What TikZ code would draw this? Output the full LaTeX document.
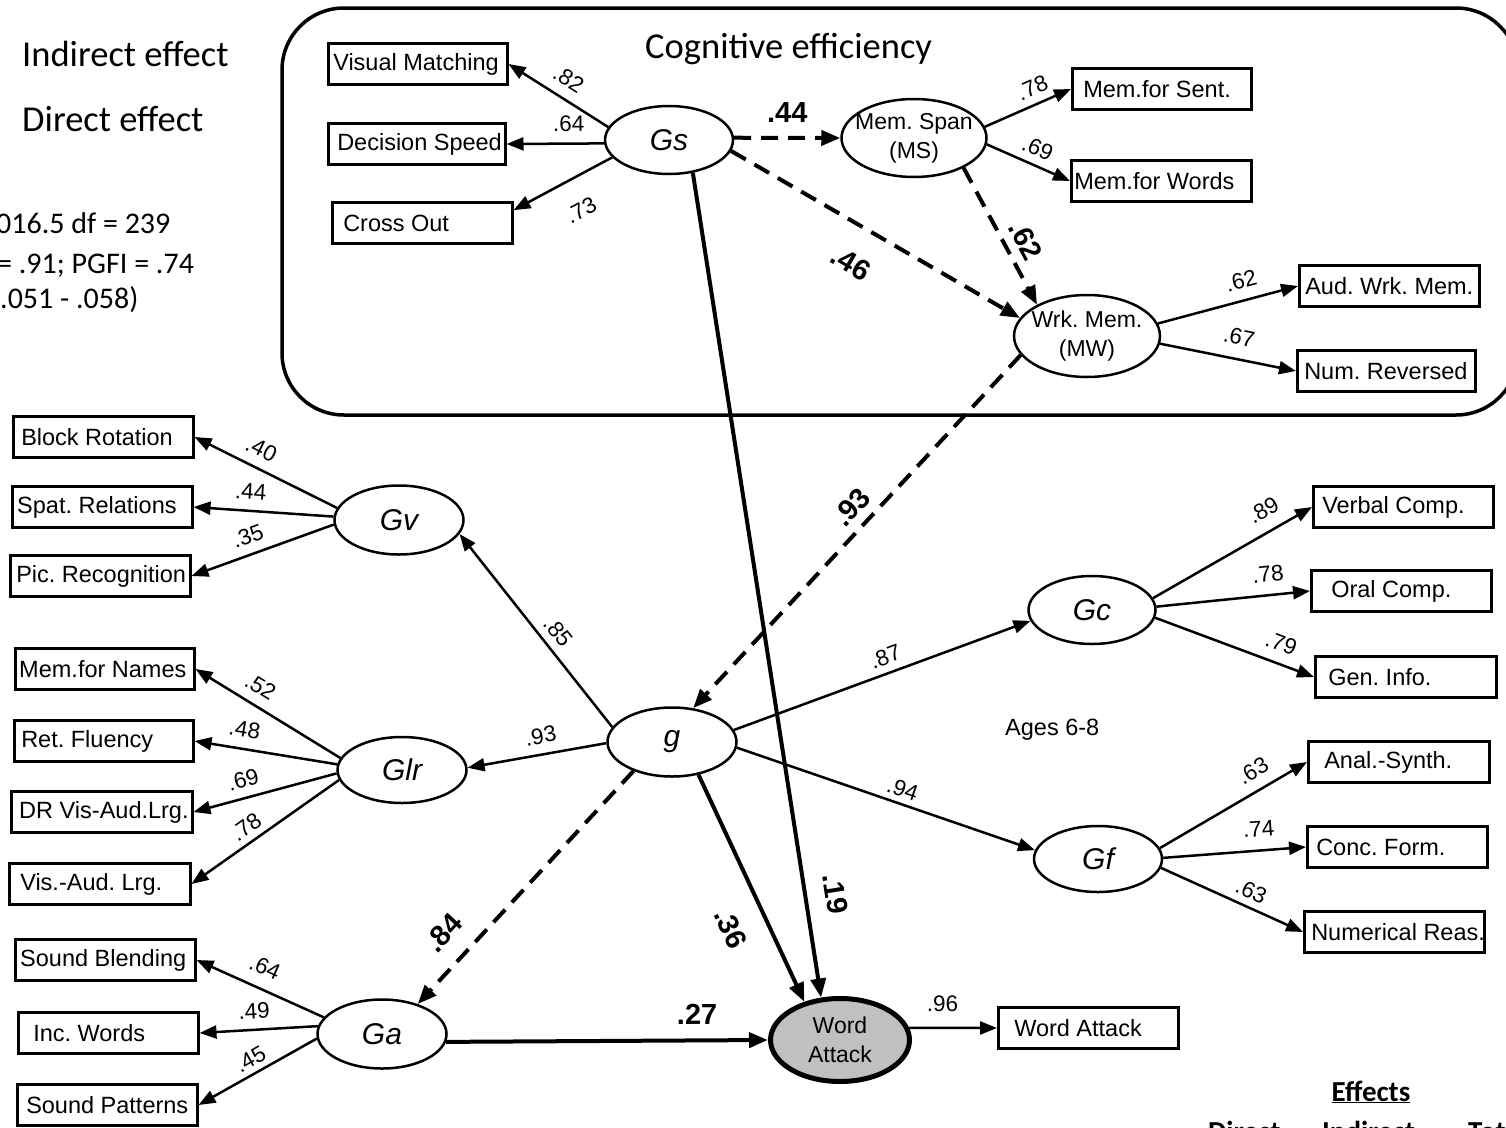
\documentclass[tikz,border=0pt]{standalone}
\usepackage{fontspec}
\setmainfont{Liberation Sans}
\newfontfamily\carlito{Carlito}
\usetikzlibrary{arrows.meta,shapes.geometric}
% text of an indicator box: left padding, box width, label
\newcommand\boxlabel[3]{\makebox[#2pt][l]{\hspace*{#1pt}#3}}
\definecolor{wafill}{RGB}{192,192,192}
\frenchspacing

\begin{document}
\begin{tikzpicture}[x=1pt,y=-1pt,
  ind/.style={draw,line width=2.5pt,anchor=west,inner xsep=0pt,inner ysep=0pt,
    minimum height=41pt,font=\fontsize{23.5}{28}\selectfont},
  lat/.style={draw,ellipse,line width=2.5pt,inner sep=0pt,
    font=\fontsize{30}{36}\selectfont\itshape},
  twoline/.style={font=\upshape\fontsize{23}{29}\selectfont,align=center,inner sep=0pt},
  load/.style={line width=2.5pt,-{Triangle[length=17pt,width=13pt]}},
  eff/.style={line width=4pt,-{Triangle[length=19pt,width=15pt]}},
  indeff/.style={eff,dash pattern=on 17pt off 10pt},
  lbl/.style={font=\fontsize{22.5}{26}\selectfont,inner sep=1pt,sloped},
  blbl/.style={font=\fontsize{29}{34}\selectfont\bfseries,inner sep=1pt,sloped},
  hdr/.style={font=\carlito\fontsize{36.5}{44}\selectfont,inner sep=0pt,anchor=base west},
  fitstat/.style={font=\carlito\fontsize{30}{36}\selectfont,inner sep=0pt,anchor=base west},
  effhdr/.style={font=\carlito\bfseries\fontsize{29}{35}\selectfont,inner sep=0pt},
]
\useasboundingbox (0,0) rectangle (1506,1127);
\clip (0,0) rectangle (1506,1127);

% legend and fit statistics
\node[hdr] (indirect) at (22,66) {Indirect effect};
\node[hdr] (direct) at (22,131) {Direct effect};
\node[fitstat] (fitA) at (-4,233) {016.5 df = 239};
\node[fitstat] (fitB) at (-3,273) {= .91; PGFI = .74};
\node[fitstat] (fitC) at (0,308) {.051 - .058)};

% cognitive efficiency frame
\draw[line width=3.5pt,rounded corners=62pt] (282,8) rectangle (1518,415);
\node[hdr] (cogeff) at (645,58) {Cognitive efficiency};

% latent factors
\node[lat,minimum width=128pt,minimum height=68pt] (gs) at (669,140) {Gs};
\node[lat,minimum width=145pt,minimum height=78pt,
  label={[twoline]center:Mem. Span\\(MS)}] (ms) at (914,138) {};
\node[lat,minimum width=146pt,minimum height=82pt,
  label={[twoline]center:Wrk. Mem.\\(MW)}] (mw) at (1087,336) {};
\node[lat,minimum width=129pt,minimum height=69pt] (gv) at (399,520) {Gv};
\node[lat,minimum width=129pt,minimum height=66pt] (glr) at (402,770) {Glr};
\node[lat,minimum width=129pt,minimum height=69pt] (ga) at (382,1034) {Ga};
\node[lat,minimum width=129pt,minimum height=69pt] (g) at (672,742) {g};
\node[lat,minimum width=127pt,minimum height=68pt] (gc) at (1092,610) {Gc};
\node[lat,minimum width=128pt,minimum height=66pt] (gf) at (1098,859) {Gf};
\node[lat,fill=wafill,line width=5pt,minimum width=139pt,minimum height=83pt,
  label={[twoline]center:Word\\Attack}] (wa) at (840,1040) {};

% indicator boxes
\node[ind] (vm) at (327,64) {\boxlabel{5}{179}{Visual Matching}};
\node[ind] (ds) at (327,144) {\boxlabel{9}{177}{Decision Speed}};
\node[ind] (co) at (331,223) {\boxlabel{11}{180}{Cross Out}};
\node[ind] (msent) at (1071,89) {\boxlabel{11}{179}{Mem.for Sent.}};
\node[ind] (mwords) at (1070,181) {\boxlabel{3}{180}{Mem.for Words}};
\node[ind] (aud) at (1298,286) {\boxlabel{6}{180}{Aud. Wrk. Mem.}};
\node[ind] (numrev) at (1296,371) {\boxlabel{7}{178}{Num. Reversed}};
\node[ind] (br) at (12,437) {\boxlabel{8}{180}{Block Rotation}};
\node[ind] (sr) at (11,507) {\boxlabel{5}{180}{Spat. Relations}};
\node[ind] (pr) at (9,576) {\boxlabel{6}{180}{Pic. Recognition}};
\node[ind] (mn) at (14,669) {\boxlabel{4}{179}{Mem.for Names}};
\node[ind] (rf) at (13,741) {\boxlabel{7}{179}{Ret. Fluency}};
\node[ind] (dr) at (10,812) {\boxlabel{8}{181}{DR Vis-Aud.Lrg.}};
\node[ind] (va) at (8,884) {\boxlabel{11}{181}{Vis.-Aud. Lrg.}};
\node[ind] (sb) at (14,960) {\boxlabel{5}{180}{Sound Blending}};
\node[ind] (iw) at (17,1033) {\boxlabel{15}{180}{Inc. Words}};
\node[ind] (sp) at (16,1105) {\boxlabel{9}{180}{Sound Patterns}};
\node[ind] (vc) at (1312,507) {\boxlabel{9}{180}{Verbal Comp.}};
\node[ind] (oc) at (1310,591) {\boxlabel{20}{180}{Oral Comp.}};
\node[ind] (gi) at (1314,677) {\boxlabel{13}{181}{Gen. Info.}};
\node[ind] (as) at (1307,762) {\boxlabel{16}{181}{Anal.-Synth.}};
\node[ind] (cf) at (1306,847) {\boxlabel{9}{180}{Conc. Form.}};
\node[ind] (nr) at (1303,932) {\boxlabel{7}{180}{Numerical Reas.}};
\node[ind] (wab) at (997,1028) {\boxlabel{16}{180}{Word Attack}};

\node[anchor=base west,inner sep=0pt,font=\fontsize{23.5}{28}\selectfont] (ages) at (1005,735) {Ages 6-8};

% effects table heading
\node[effhdr,anchor=base] (effects) at (1371,1101) {\underline{Effects}};
\node[effhdr,anchor=base west] (colD) at (1208,1141) {Direct};
\node[effhdr,anchor=base west] (colI) at (1322,1141) {Indirect};
\node[effhdr,anchor=base west] (colT) at (1468,1141) {Total};

% Gs loadings
\draw[load] (gs.168) -- node[lbl,above=9pt,pos=.5]{.82} (vm.east);
\draw[load] (gs.183) -- node[lbl,above=10pt,pos=.36]{.64} (ds.east);
\draw[load] (gs.197) -- node[lbl,below=22pt,pos=.47]{.73} (co.8);
% memory span / working memory loadings
\draw[load] (ms.9) -- node[lbl,above=6.5pt,pos=.63]{.78} (msent.west);
\draw[load] (ms.355) -- node[lbl,above=6.7pt,pos=.53]{.69} (mwords.west);
\draw[load] (mw.10) -- node[lbl,above=9.5pt,pos=.63]{.62} (aud.west);
\draw[load] (mw.354) -- node[lbl,above=12pt,pos=.55]{.67} (numrev.west);

% structural paths
\draw[indeff] (gs.2) -- node[blbl,above=12pt,pos=.5]{.44} (ms.180);
\draw[indeff] (gs.350) -- node[blbl,below=24pt,pos=.48]{.46} (mw.165);
\draw[indeff] (ms.329) -- node[blbl,above=7pt,pos=.6]{.62} (mw.148);
\draw[indeff] (mw.196) -- node[blbl,above=7pt,pos=.47]{.93} (g.58);
\draw[eff] (gs.306) -- node[blbl,above=17pt,pos=.88]{.19} (wa.114);
\draw[eff] (g.309) -- node[blbl,below=22pt,pos=.61]{.36} (wa.133);
\draw[indeff] (g.217) -- node[blbl,above=16pt,pos=.78]{.84} (ga.40);
\draw[eff] (ga.353) -- node[blbl,above=13pt,pos=.78]{.27} (wa.west);
\draw[load] (wa.10) -- node[lbl,above=14pt,pos=.38]{.96} (wab.west);

% g loadings
\draw[load] (g.166) -- node[lbl,above=6.6pt,pos=.44]{.85} (gv.347);
\draw[load] (g.181) -- node[lbl,above=8.5pt,pos=.45]{.93} (glr.2);
\draw[load] (g.11) -- node[lbl,above=6.4pt,pos=.53]{.87} (gc.190);
\draw[load] (g.355) -- node[lbl,above=4.5pt,pos=.54]{.94} (gf.172);

% Gv loadings
\draw[load] (gv.169) -- node[lbl,above=8.8pt,pos=.59]{.40} (br.east);
\draw[load] (gv.177) -- node[lbl,above=9pt,pos=.6]{.44} (sr.east);
\draw[load] (gv.184) -- node[lbl,above=8.3pt,pos=.56]{.35} (pr.east);
% Glr loadings
\draw[load] (glr.169) -- node[lbl,above=8.7pt,pos=.62]{.52} (mn.east);
\draw[load] (glr.175) -- node[lbl,above=8.9pt,pos=.67]{.48} (rf.east);
\draw[load] (glr.183) -- node[lbl,above=7.7pt,pos=.62]{.69} (dr.east);
\draw[load] (glr.189) -- node[lbl,above=5pt,pos=.57]{.78} (va.east);
% Ga loadings
\draw[load] (ga.164) -- node[lbl,above=11pt,pos=.53]{.64} (sb.east);
\draw[load] (ga.173) -- node[lbl,above=8.3pt,pos=.53]{.49} (iw.east);
\draw[load] (ga.184) -- node[lbl,above=4.7pt,pos=.5]{.45} (sp.east);
% Gc loadings
\draw[load] (gc.11) -- node[lbl,above=11pt,pos=.76]{.89} (vc.west);
\draw[load] (gc.3) -- node[lbl,above=10.8pt,pos=.74]{.78} (oc.west);
\draw[load] (gc.353) -- node[lbl,above=9.8pt,pos=.75]{.79} (gi.west);
% Gf loadings
\draw[load] (gf.10) -- node[lbl,above=9.5pt,pos=.7]{.63} (as.west);
\draw[load] (gf.1) -- node[lbl,above=11.6pt,pos=.68]{.74} (cf.west);
\draw[load] (gf.352) -- node[lbl,above=5.6pt,pos=.59]{.63} (nr.west);
\end{tikzpicture}
\end{document}
